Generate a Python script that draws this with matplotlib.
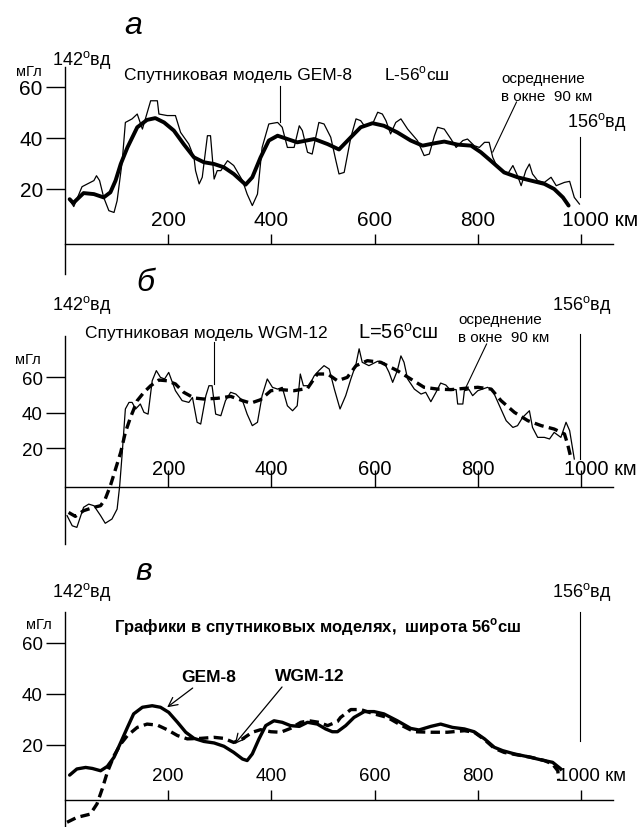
import matplotlib
matplotlib.use("Agg")
import matplotlib.pyplot as plt

plt.rcParams["font.family"] = ["Liberation Sans", "DejaVu Sans"]
plt.rcParams["mathtext.fontset"] = "custom"
plt.rcParams["mathtext.rm"] = "Liberation Sans"
plt.rcParams["mathtext.bf"] = "Liberation Sans:bold"

# ---- data (km along profile, mGal) ----
xticks = [200, 400, 600, 800, 1000]
yticks = [20, 40, 60]

# panel a: GEM-8, raw profile and 90 km running mean
gem8_raw_km = [10, 17, 33, 56, 61, 67, 75, 85, 95, 101,
               111, 117, 130, 140, 150, 166, 179, 182, 198, 214,
               224, 240, 250, 253, 260, 266, 276, 282, 289, 295,
               302, 315, 327, 344, 353, 363, 373, 382, 395, 412,
               421, 431, 444, 454, 460, 470, 479, 492, 502, 515,
               525, 531, 541, 554, 564, 573, 580, 596, 606, 615,
               622, 631, 641, 651, 664, 683, 696, 706, 716, 722,
               735, 748, 758, 771, 780, 793, 803, 813, 822, 829,
               838, 858, 868, 877, 884, 893, 900, 906, 916, 929,
               942, 952, 968, 978, 987, 997]
gem8_raw = [15.4, 13.1, 20.9, 23.3, 25.2, 23.3, 16.7, 11.5, 10.8, 15.4,
            31.1, 46.1, 47.5, 49.4, 43.5, 54.6, 54.6, 49.4, 48.8, 48.8,
            42.2, 37.6, 32.4, 27.2, 22.0, 24.6, 40.9, 40.9, 23.9, 27.2,
            27.2, 31.1, 29.2, 23.3, 18.0, 13.5, 18.0, 36.3, 45.5, 46.1,
            44.2, 36.3, 36.3, 44.8, 42.9, 34.4, 33.7, 46.1, 45.5, 40.3,
            31.1, 25.9, 26.5, 40.3, 47.5, 46.8, 44.8, 45.5, 50.1, 49.4,
            46.8, 41.6, 46.1, 47.5, 43.5, 39.0, 33.1, 33.7, 40.9, 44.2,
            43.5, 39.6, 36.3, 39.0, 39.6, 37.0, 36.3, 38.3, 38.3, 32.4,
            28.5, 25.9, 29.2, 25.2, 21.3, 27.2, 29.8, 25.9, 23.3, 22.6,
            24.6, 21.3, 22.6, 23.0, 16.7, 14.1]

gem8_avg_km = [9, 16, 36, 56, 75, 88, 98, 108, 121, 140,
               159, 175, 192, 211, 230, 250, 269, 289, 308, 327,
               350, 363, 379, 395, 412, 431, 450, 483, 509, 531,
               554, 573, 596, 618, 644, 670, 693, 715, 735, 761,
               787, 806, 825, 851, 877, 903, 929, 948, 965, 976]
gem8_avg = [16.0, 14.5, 18.4, 18.0, 16.7, 18.7, 23.3, 29.8, 36.3, 44.2,
            47.1, 47.8, 46.1, 42.9, 37.6, 32.4, 30.5, 29.8, 28.5, 25.9,
            21.7, 24.6, 32.4, 39.0, 40.9, 39.6, 38.3, 39.6, 37.6, 35.5,
            40.3, 44.2, 45.8, 44.8, 42.2, 39.0, 37.0, 37.9, 38.6, 37.4,
            37.0, 34.4, 31.1, 26.5, 24.6, 23.3, 22.0, 20.0, 16.7, 13.5]

# panel b: WGM-12, raw profile and 90 km running mean
wgm12_raw_km = [4, 14, 23, 36, 46, 56, 69, 78, 91, 101,
                106, 111, 117, 124, 130, 137, 146, 153, 161, 169,
                177, 185, 193, 201, 214, 227, 240, 247, 256, 263,
                273, 279, 285, 292, 302, 311, 321, 331, 344, 353,
                363, 373, 382, 392, 402, 412, 421, 431, 441, 450,
                456, 462, 473, 483, 492, 502, 512, 522, 533, 544,
                554, 564, 570, 576, 589, 606, 619, 628, 635, 644,
                651, 657, 664, 677, 690, 699, 709, 719, 728, 738,
                745, 758, 761, 771, 774, 783, 790, 800, 819, 829,
                842, 855, 868, 877, 887, 900, 906, 916, 929, 939,
                948, 961, 971, 978, 987]
wgm12_raw = [-18, -23.7, -24.6, -13.3, -11.5, -12.4, -18, -22.3, -19.9, -14.3,
             -1.1, 17.7, 42.1, 45.8, 45.8, 42.1, 44.9, 40.2, 39.2, 58,
             63.7, 59.9, 59, 62.7, 52.4, 46.8, 45.8, 48.6, 34.6, 33.6,
             49.6, 55.2, 55.2, 39.2, 38.3, 46.8, 51.5, 50.5, 46.8, 39.2,
             32.7, 34.6, 49.6, 59, 54.3, 53.3, 54.3, 43.9, 41.1, 43.9,
             61.8, 55.2, 55.2, 60.8, 63.7, 66.5, 64.6, 53.3, 42.1, 49.6,
             59, 67.4, 76, 68.4, 66.5, 69, 68, 62.7, 57.1, 63.7,
             72, 68.4, 59, 53.3, 50.5, 51.5, 46.2, 51.5, 56.7, 55.6,
             53.3, 53, 44.9, 44.9, 52.4, 53, 49.6, 52.4, 54.3, 52.4,
             43.9, 35.5, 31.7, 32.7, 37.4, 41.1, 31.7, 26.1, 26.1, 25.2,
             28.9, 26.1, 34.6, 29.9, 13.9]

wgm12_avg_km = [7, 20, 36, 56, 69, 78, 88, 98, 108, 117,
                127, 140, 153, 166, 182, 198, 214, 230, 250, 269,
                295, 321, 344, 360, 379, 399, 418, 444, 470, 489,
                509, 528, 547, 564, 586, 612, 644, 670, 696, 722,
                748, 774, 800, 826, 845, 871, 897, 923, 948, 968,
                974, 981]
wgm12_avg = [-16.2, -18.4, -15.2, -13.3, -12.4, -8.6, -1.1, 8.3, 17.7, 28.9,
             37.4, 46.8, 51.5, 55.2, 58.4, 58, 56.2, 51.5, 48.3, 47.7,
             48.1, 49.2, 46.8, 45.4, 47.3, 52.4, 53, 52.4, 53.7, 61.8,
             61.8, 58, 59.9, 66.5, 69.3, 68.4, 63.7, 59, 54.3, 53.3,
             53, 53.7, 54.3, 53.3, 46.8, 40.2, 35.5, 32.7, 30.8, 28,
             22.3, 13.9]

# panel c: both smoothed models
gem8_c_km = [9, 23, 40, 53, 69, 82, 95, 108, 121, 133,
             150, 169, 185, 201, 218, 234, 250, 269, 289, 308,
             327, 344, 353, 363, 376, 389, 405, 421, 437, 454,
             470, 489, 505, 518, 528, 544, 560, 580, 599, 618,
             644, 670, 686, 709, 728, 751, 774, 793, 813, 832,
             848, 871, 897, 922, 945, 961]
gem8_c = [8.2, 10.6, 11.2, 10.8, 9.9, 11.6, 15.2, 21, 26.9, 32.2,
          34.8, 35.4, 34.8, 32.8, 28.9, 25, 22.6, 21.4, 20.8, 19.5,
          17.1, 14.5, 13.9, 16.5, 22.4, 27.6, 29.5, 28.9, 27.6, 27.3,
          28.9, 28.2, 26.3, 25.2, 25.2, 27.6, 30.8, 33.1, 33.1, 32.2,
          29.5, 26.5, 25.9, 27.3, 28.2, 26.9, 26.3, 25.2, 22.4, 19.1,
          17.8, 16.5, 15.4, 14.2, 13.2, 10.6]

wgm12_c_km = [4, 23, 49, 62, 72, 82, 95, 108, 121, 140,
              159, 179, 198, 218, 237, 263, 289, 308, 327, 344,
              363, 379, 399, 418, 437, 457, 473, 492, 509, 528,
              534, 554, 573, 599, 625, 651, 677, 709, 741, 774,
              793, 813, 832, 851, 877, 903, 929, 945, 955, 957]
wgm12_c = [-10.3, -8.4, -7.1, -3.1, 2.7, 9.3, 15.8, 20.4, 23.7, 26.9,
           28.2, 27.8, 26, 23.7, 22.4, 22.6, 23, 22.6, 21, 22.4,
           25, 26, 25.2, 25, 26.5, 28.9, 29.5, 28.9, 27.6, 29.2,
           30.8, 33.9, 33.9, 32.2, 30.8, 27.8, 25.2, 25, 25, 25.6,
           25, 22.1, 18.7, 17.1, 16.1, 15.2, 13.9, 12.5, 9.9, 6]

# ---- layout (pixels of the 643x828 picture) ----
W, H = 643, 828
X0, PXKM = 65.0, 0.516   # pixel column of 0 km, pixels per km
DEG = r"$^{\mathrm{o}}$"
DASH = (2.8, 1.6)


def panel(fig, top, bot, zero, ppu, ybase, ybot, ytop, ylab_size, tlen):
    ax = fig.add_axes([0, 1 - bot / H, 1, (bot - top) / H])
    ax.set_xlim(-X0 / PXKM, (W - X0) / PXKM)
    ax.set_ylim((zero - bot) / ppu, (zero - top) / ppu)
    ax.patch.set_alpha(0)
    ax.spines["top"].set_visible(False)
    ax.spines["right"].set_visible(False)
    ax.spines["left"].set_position(("data", 0))
    ax.spines["left"].set_bounds(ybot, ytop)
    ax.spines["bottom"].set_position(("data", ybase))
    ax.spines["bottom"].set_bounds(0, 1062)
    for s in ("left", "bottom"):
        ax.spines[s].set_linewidth(1.0)
    ax.set_yticks(yticks)
    ax.set_yticklabels([str(v) for v in yticks])
    ax.tick_params(axis="y", direction="out", length=14, width=1.0, pad=2,
                   labelsize=ylab_size)
    ax.set_xticks(xticks)
    ax.tick_params(axis="x", direction="in", length=tlen, width=1.0,
                   labelbottom=False)
    return ax


def xlabels(ax, y, size, last_x):
    for t in xticks[:-1]:
        ax.text(t, y, str(t), ha="center", va="center", fontsize=size)
    ax.text(last_x, y, "1000 км", ha="left", va="center", fontsize=size)


fig = plt.figure(figsize=(W / 100, H / 100), dpi=100)

# ---------- panel a ----------
ax = panel(fig, 0, 275, 241, 2.55, -1.6, -13.3, 67.8, 15, 7)
ax.plot(gem8_raw_km, gem8_raw, color="black", lw=0.9)
ax.plot(gem8_avg_km, gem8_avg, color="black", lw=2.8, solid_joinstyle="round",
        solid_capstyle="round")
xlabels(ax, 8.2, 15, 963)
ax.text(133, 84.5, "а", fontsize=23, style="italic", ha="center", va="center")
ax.text(-25, 71, "142" + DEG + "вд", fontsize=13, ha="left", va="center")
ax.text(-70, 66.3, "мГл", fontsize=10.5, ha="center", va="center")
ax.text(114, 63.1, "Спутниковая модель GEM-8", fontsize=12.5, ha="left",
        va="baseline")
ax.text(618, 63.1, "L-56" + DEG + "сш", fontsize=12.5, ha="left", va="baseline")
ax.text(845, 63.5, "осреднение", fontsize=11, ha="left", va="center")
ax.text(845, 56.5, "в окне  90 км", fontsize=11, ha="left", va="center")
ax.text(972, 46.7, "156" + DEG + "вд", fontsize=13, ha="left", va="center")
ax.plot([416, 416], [60.4, 46.3], color="black", lw=0.8)
ax.plot([875, 829], [54.1, 34.5], color="black", lw=0.8)
ax.plot([999, 999], [40.4, 16.9], color="black", lw=0.8)

# ---------- panel b ----------
ax = panel(fig, 275, 550, 484.7, 1.775, -1.7, -34, 83.4, 13.5, 12)
ax.plot(wgm12_raw_km, wgm12_raw, color="black", lw=0.9)
ax.plot(wgm12_avg_km, wgm12_avg, color="black", lw=2.4, dashes=DASH)
xlabels(ax, 8.6, 14.5, 968)
ax.text(155, 113.6, "б", fontsize=23, style="italic", ha="center", va="center")
ax.text(-25, 101.2, "142" + DEG + "вд", fontsize=13, ha="left", va="center")
ax.text(944, 101.2, "156" + DEG + "вд", fontsize=13, ha="left", va="center")
ax.text(-71.7, 70.3, "мГл", fontsize=10.5, ha="center", va="center")
ax.text(39, 82.6, "Спутниковая модель WGM-12", fontsize=12.5, ha="left",
        va="baseline")
ax.text(567, 82.0, "L=56" + DEG + "сш", fontsize=14.5, ha="left", va="baseline")
ax.text(762, 92.8, "осреднение", fontsize=11, ha="left", va="center")
ax.text(762, 82.6, "в окне  90 км", fontsize=11, ha="left", va="center")
ax.plot([288, 288], [80, 56.2], color="black", lw=0.8)
ax.plot([817, 777], [78.7, 54.3], color="black", lw=0.8)
ax.plot([999, 999], [84.3, 14], color="black", lw=0.8)

# ---------- panel c ----------
ax = panel(fig, 550, 828, 797, 2.55, -1.45, -12.2, 72.2, 13.5, 7)
ax.plot(gem8_c_km, gem8_c, color="black", lw=2.4, solid_joinstyle="round",
        solid_capstyle="round")
ax.plot(wgm12_c_km, wgm12_c, color="black", lw=2.4, dashes=DASH)
xlabels(ax, 8.0, 13.5, 956)
ax.text(152, 88.4, "в", fontsize=23, style="italic", ha="center", va="center")
ax.text(-25, 80.5, "142" + DEG + "вд", fontsize=13, ha="left", va="center")
ax.text(944, 80.5, "156" + DEG + "вд", fontsize=13, ha="left", va="center")
ax.text(-50, 67.5, "мГл", fontsize=10.5, ha="center", va="center")
ax.text(95, 66.8, "Графики в спутниковых моделях,  широта 56$^{\\mathbf{o}}$сш",
        fontsize=12, fontweight="bold", ha="left", va="center")
ax.annotate("GEM-8", xy=(198, 34.8), xytext=(278, 46.7), fontsize=12.5,
            fontweight="bold", ha="center", va="center",
            arrowprops=dict(arrowstyle="->", lw=0.9, color="black",
                            mutation_scale=16, relpos=(0.3, 0),
                            shrinkA=1, shrinkB=0))
ax.annotate("WGM-12", xy=(329, 20.4), xytext=(474, 47.2), fontsize=12.5,
            fontweight="bold", ha="center", va="center",
            arrowprops=dict(arrowstyle="->", lw=0.9, color="black",
                            mutation_scale=16, relpos=(0.15, 0),
                            shrinkA=1, shrinkB=0))
ax.plot([999, 999], [72, 21.7], color="black", lw=0.8)

fig.savefig("out.png", dpi=100)
